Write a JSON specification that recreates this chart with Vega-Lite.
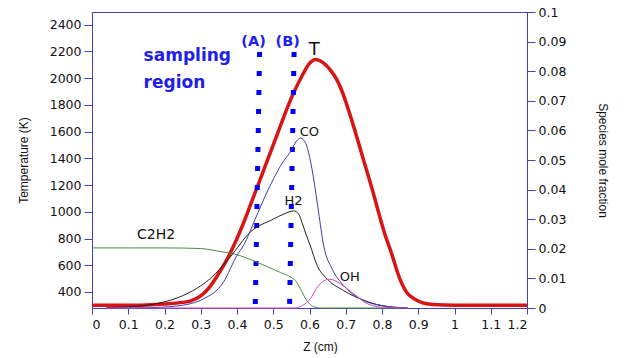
{
  "$schema": "https://vega.github.io/schema/vega-lite/v6.json",
  "width": 435,
  "height": 296,
  "autosize": "none",
  "padding": {"left": 92, "top": 12, "right": 100, "bottom": 50},
  "background": "white",
  "config": {
    "view": {"stroke": "#4040c0", "strokeWidth": 1},
    "axis": {
      "domainColor": "#4040c0",
      "tickColor": "#4040c0",
      "grid": false,
      "labelFont": "DejaVu Sans",
      "labelFontSize": 12.5,
      "labelColor": "#111111",
      "labelOverlap": false,
      "labelBound": false,
      "titleFont": "Liberation Sans",
      "titleFontSize": 12,
      "titleFontWeight": "normal",
      "titleColor": "#111111"
    }
  },
  "datasets": {
    "temp": [
      {"z": 0, "T": 300}, {"z": 0.1, "T": 300}, {"z": 0.15, "T": 303}, {"z": 0.2, "T": 310},
      {"z": 0.25, "T": 322}, {"z": 0.271, "T": 332}, {"z": 0.3, "T": 370}, {"z": 0.326, "T": 442},
      {"z": 0.35, "T": 540}, {"z": 0.372, "T": 642}, {"z": 0.4, "T": 800}, {"z": 0.418, "T": 916},
      {"z": 0.446, "T": 1115}, {"z": 0.5, "T": 1500}, {"z": 0.556, "T": 1889}, {"z": 0.58, "T": 2020},
      {"z": 0.6, "T": 2110}, {"z": 0.616, "T": 2140}, {"z": 0.639, "T": 2113}, {"z": 0.655, "T": 2070},
      {"z": 0.676, "T": 1985}, {"z": 0.69, "T": 1900}, {"z": 0.703, "T": 1800}, {"z": 0.725, "T": 1610},
      {"z": 0.75, "T": 1380}, {"z": 0.775, "T": 1150}, {"z": 0.791, "T": 991}, {"z": 0.81, "T": 815},
      {"z": 0.823, "T": 716}, {"z": 0.85, "T": 492}, {"z": 0.87, "T": 390}, {"z": 0.887, "T": 352},
      {"z": 0.91, "T": 320}, {"z": 0.94, "T": 306}, {"z": 1.0, "T": 300}, {"z": 1.2, "T": 300}
    ],
    "species": [
      {"species": "C2H2", "z": 0, "f": 0.0203}, {"species": "C2H2", "z": 0.1, "f": 0.0203},
      {"species": "C2H2", "z": 0.2, "f": 0.0203}, {"species": "C2H2", "z": 0.3, "f": 0.0201},
      {"species": "C2H2", "z": 0.33, "f": 0.0196}, {"species": "C2H2", "z": 0.363, "f": 0.0189},
      {"species": "C2H2", "z": 0.381, "f": 0.0186}, {"species": "C2H2", "z": 0.42, "f": 0.0172},
      {"species": "C2H2", "z": 0.464, "f": 0.015}, {"species": "C2H2", "z": 0.492, "f": 0.0135},
      {"species": "C2H2", "z": 0.52, "f": 0.012}, {"species": "C2H2", "z": 0.547, "f": 0.0105},
      {"species": "C2H2", "z": 0.562, "f": 0.0092}, {"species": "C2H2", "z": 0.575, "f": 0.0065},
      {"species": "C2H2", "z": 0.59, "f": 0.003}, {"species": "C2H2", "z": 0.602, "f": 0.0012},
      {"species": "C2H2", "z": 0.615, "f": 0.0003}, {"species": "C2H2", "z": 0.63, "f": 0},
      {"species": "C2H2", "z": 0.87, "f": 0},
      {"species": "H2", "z": 0.04, "f": 0.0001}, {"species": "H2", "z": 0.1, "f": 0.0004},
      {"species": "H2", "z": 0.179, "f": 0.0015}, {"species": "H2", "z": 0.253, "f": 0.0043},
      {"species": "H2", "z": 0.3, "f": 0.0075}, {"species": "H2", "z": 0.326, "f": 0.0099},
      {"species": "H2", "z": 0.381, "f": 0.0172}, {"species": "H2", "z": 0.437, "f": 0.0257},
      {"species": "H2", "z": 0.5, "f": 0.03}, {"species": "H2", "z": 0.53, "f": 0.0318},
      {"species": "H2", "z": 0.556, "f": 0.0328}, {"species": "H2", "z": 0.57, "f": 0.0318},
      {"species": "H2", "z": 0.579, "f": 0.029}, {"species": "H2", "z": 0.59, "f": 0.025},
      {"species": "H2", "z": 0.602, "f": 0.0211}, {"species": "H2", "z": 0.621, "f": 0.0144},
      {"species": "H2", "z": 0.648, "f": 0.0099}, {"species": "H2", "z": 0.694, "f": 0.0059},
      {"species": "H2", "z": 0.74, "f": 0.0031}, {"species": "H2", "z": 0.8, "f": 0.0008},
      {"species": "H2", "z": 0.87, "f": 0},
      {"species": "CO", "z": 0.04, "f": 0}, {"species": "CO", "z": 0.15, "f": 0.0001},
      {"species": "CO", "z": 0.234, "f": 0.0007}, {"species": "CO", "z": 0.308, "f": 0.0031},
      {"species": "CO", "z": 0.363, "f": 0.0088}, {"species": "CO", "z": 0.4, "f": 0.0178},
      {"species": "CO", "z": 0.418, "f": 0.0211}, {"species": "CO", "z": 0.45, "f": 0.03},
      {"species": "CO", "z": 0.483, "f": 0.0392}, {"species": "CO", "z": 0.501, "f": 0.0437},
      {"species": "CO", "z": 0.525, "f": 0.049}, {"species": "CO", "z": 0.547, "f": 0.0527},
      {"species": "CO", "z": 0.565, "f": 0.0565}, {"species": "CO", "z": 0.575, "f": 0.0574},
      {"species": "CO", "z": 0.59, "f": 0.0555}, {"species": "CO", "z": 0.602, "f": 0.05},
      {"species": "CO", "z": 0.611, "f": 0.044}, {"species": "CO", "z": 0.625, "f": 0.0324},
      {"species": "CO", "z": 0.639, "f": 0.0211}, {"species": "CO", "z": 0.662, "f": 0.0133},
      {"species": "CO", "z": 0.694, "f": 0.0076}, {"species": "CO", "z": 0.74, "f": 0.0031},
      {"species": "CO", "z": 0.8, "f": 0.0008}, {"species": "CO", "z": 0.87, "f": 0},
      {"species": "OH", "z": 0.04, "f": 0}, {"species": "OH", "z": 0.56, "f": 0},
      {"species": "OH", "z": 0.58, "f": 0.0008}, {"species": "OH", "z": 0.602, "f": 0.0031},
      {"species": "OH", "z": 0.625, "f": 0.0076}, {"species": "OH", "z": 0.64, "f": 0.0092},
      {"species": "OH", "z": 0.653, "f": 0.0097}, {"species": "OH", "z": 0.67, "f": 0.0093},
      {"species": "OH", "z": 0.685, "f": 0.0082}, {"species": "OH", "z": 0.722, "f": 0.0048},
      {"species": "OH", "z": 0.759, "f": 0.0015}, {"species": "OH", "z": 0.8, "f": 0.0003},
      {"species": "OH", "z": 0.87, "f": 0}
    ],
    "sampling": [
      {"z": 0.4623, "z2": 0.4505, "T": 2196, "T2": 305},
      {"z": 0.5575, "z2": 0.5451, "T": 2196, "T2": 305}
    ],
    "regionLabels": [
      {"z": 0.1423, "T": 2130, "text": "sampling"},
      {"z": 0.1423, "T": 1926, "text": "region"}
    ],
    "lineLabels": [
      {"z": 0.4458, "T": 2239, "text": "(A)"},
      {"z": 0.54, "T": 2239, "text": "(B)"}
    ],
    "blackLabels": [
      {"z": 0.613, "T": 2175, "text": "T", "size": 18},
      {"z": 0.5995, "T": 1569, "text": "CO", "size": 13},
      {"z": 0.5556, "T": 1053, "text": "H2", "size": 13},
      {"z": 0.711, "T": 479, "text": "OH", "size": 13},
      {"z": 0.1766, "T": 799, "text": "C2H2", "size": 14}
    ]
  },
  "encoding": {
    "x": {
      "field": "z", "type": "quantitative",
      "scale": {"domain": [0, 1.2], "nice": false, "zero": false},
      "axis": {
        "title": "Z (cm)", "values": [0, 0.1, 0.2, 0.3, 0.4, 0.5, 0.6, 0.7, 0.8, 0.9, 1, 1.1, 1.2],
        "format": ".1~f", "tickSize": 6, "labelPadding": 4, "titlePadding": 11, "titleX": 228,
        "labelOverlap": false
      }
    }
  },
  "layer": [
    {
      "encoding": {
        "y": {
          "field": "T", "type": "quantitative",
          "scale": {"domain": [280, 2495], "nice": false, "zero": false},
          "axis": {
            "orient": "left", "title": "Temperature (K)",
            "values": [400, 600, 800, 1000, 1200, 1400, 1600, 1800, 2000, 2200, 2400],
            "format": "d", "tickSize": 8, "labelPadding": 3, "titlePadding": 19,
            "labelOverlap": false
          }
        }
      },
      "layer": [
        {
          "data": {"name": "temp"},
          "mark": {"type": "line", "color": "#d81414", "strokeWidth": 3.5, "interpolate": "monotone", "clip": true}
        },
        {
          "data": {"name": "sampling"},
          "mark": {"type": "rule", "color": "#0000ff", "strokeWidth": 5, "strokeDash": [5, 14], "strokeCap": "butt"},
          "encoding": {
            "x2": {"field": "z2"},
            "y2": {"field": "T2"}
          }
        },
        {
          "data": {"name": "regionLabels"},
          "mark": {"type": "text", "font": "DejaVu Sans", "fontWeight": "bold", "fontSize": 17, "color": "#2020e8", "baseline": "alphabetic", "align": "left"},
          "encoding": {"text": {"field": "text"}}
        },
        {
          "data": {"name": "lineLabels"},
          "mark": {"type": "text", "font": "DejaVu Sans", "fontWeight": "bold", "fontSize": 14.5, "color": "#2020e8", "baseline": "alphabetic", "align": "center"},
          "encoding": {"text": {"field": "text"}}
        },
        {
          "data": {"name": "blackLabels"},
          "mark": {"type": "text", "font": "DejaVu Sans", "color": "#111111", "baseline": "alphabetic", "align": "center"},
          "encoding": {
            "text": {"field": "text"},
            "size": {"field": "size", "type": "quantitative", "scale": null}
          }
        }
      ]
    },
    {
      "data": {"name": "species"},
      "mark": {"type": "line", "strokeWidth": 1, "interpolate": "monotone"},
      "encoding": {
        "y": {
          "field": "f", "type": "quantitative",
          "scale": {"domain": [0, 0.1], "nice": false},
          "axis": {
            "orient": "right", "title": "Species mole fraction",
            "values": [0, 0.01, 0.02, 0.03, 0.04, 0.05, 0.06, 0.07, 0.08, 0.09, 0.1],
            "format": ".2~f", "tickSize": 8, "labelPadding": 3, "titlePadding": 30,
            "labelOverlap": false
          }
        },
        "color": {
          "field": "species", "type": "nominal",
          "scale": {"domain": ["C2H2", "H2", "CO", "OH"], "range": ["#4a8a4a", "#202020", "#3c3cb0", "#d048b8"]},
          "legend": null
        }
      }
    }
  ],
  "resolve": {"scale": {"y": "independent"}, "axis": {"y": "independent"}}
}
